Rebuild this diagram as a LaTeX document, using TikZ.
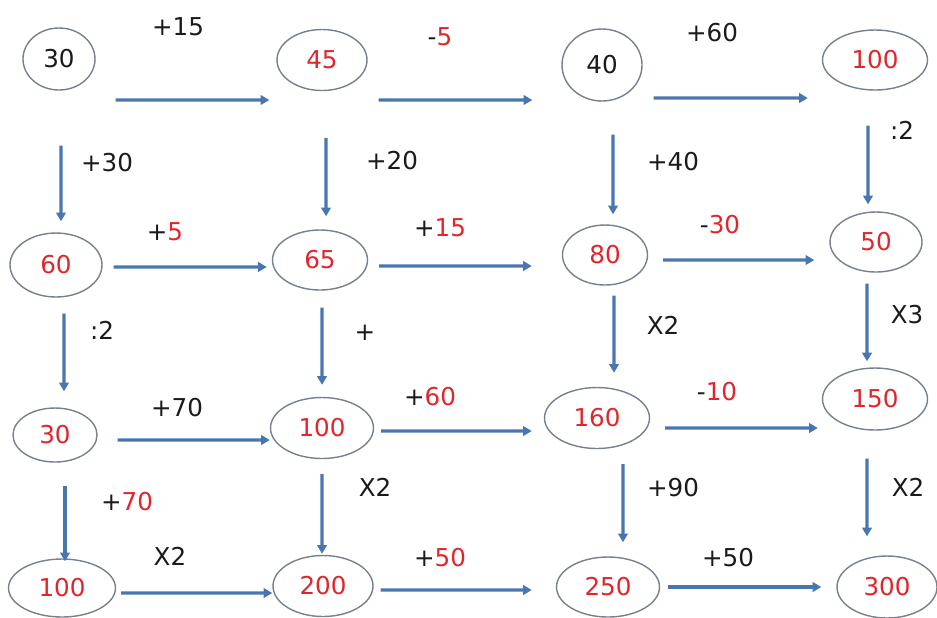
\documentclass[tikz,border=0pt]{standalone}
\usepackage{fontspec}
\setmainfont{DejaVu Sans}
\usepackage{xcolor}
\definecolor{cArrow}{HTML}{4A76B0}
\definecolor{cRim}{HTML}{77808E}
\definecolor{cRed}{HTML}{E0262B}
\definecolor{cInk}{HTML}{1A1A1A}
\usepackage{tikz}
\usetikzlibrary{arrows.meta,shapes.geometric}
\newcommand{\rd}[1]{\textcolor{cRed}{#1}}
\tikzset{
  node-val/.style={draw=cRim,line width=0.8pt,ellipse,inner sep=0pt,
    font=\fontsize{14}{16}\selectfont,text=cInk},
  node-red/.style={text=cRed},
  op-lbl/.style={inner sep=0pt,font=\fontsize{14}{16}\selectfont,text=cInk},
  % blue connectors that stop short of the ellipses
  arrow/.style={-{Triangle[length=5pt,width=5.5pt]},line width=1.8pt,draw=cArrow},
}

\begin{document}
\begin{tikzpicture}
  \useasboundingbox (0,0) rectangle (18.74,-12.34);
  % row 1
  \node[node-val,minimum width=14.4mm,minimum height=12.4mm]          (a1) at (1.18,-1.18)  {30};
  \node[node-val,node-red,minimum width=18mm,minimum height=12.2mm]   (a2) at (6.44,-1.20)  {45};
  \node[node-val,minimum width=16mm,minimum height=14.4mm]            (a3) at (12.04,-1.30) {40};
  \node[node-val,node-red,minimum width=21mm,minimum height=12mm]     (a4) at (17.50,-1.20) {100};
  % row 2
  \node[node-val,node-red,minimum width=18.4mm,minimum height=12.8mm] (b1) at (1.12,-5.30)  {60};
  \node[node-val,node-red,minimum width=19mm,minimum height=12mm]     (b2) at (6.40,-5.20)  {65};
  \node[node-val,node-red,minimum width=17mm,minimum height=12mm]     (b3) at (12.10,-5.10) {80};
  \node[node-val,node-red,minimum width=18.4mm,minimum height=12mm]   (b4) at (17.52,-4.84) {50};
  % row 3
  \node[node-val,node-red,minimum width=16.8mm,minimum height=10.8mm] (c1) at (1.10,-8.70)  {30};
  \node[node-val,node-red,minimum width=20.6mm,minimum height=12.2mm] (c2) at (6.44,-8.56)  {100};
  \node[node-val,node-red,minimum width=21mm,minimum height=12.2mm]   (c3) at (11.94,-8.36) {160};
  \node[node-val,node-red,minimum width=21mm,minimum height=12.4mm]   (c4) at (17.50,-7.98) {150};
  % row 4
  \node[node-val,node-red,minimum width=21.4mm,minimum height=11.6mm] (d1) at (1.24,-11.76) {100};
  \node[node-val,node-red,minimum width=20mm,minimum height=12.2mm]   (d2) at (6.46,-11.72) {200};
  \node[node-val,node-red,minimum width=20.6mm,minimum height=12mm]   (d3) at (12.16,-11.74) {250};
  \node[node-val,node-red,minimum width=20mm,minimum height=12.4mm]   (d4) at (17.74,-11.74) {300};

  \draw[arrow] ([xshift=4mm,yshift=-8.2mm]a1.east)   -- ([xshift=-1.4mm,yshift=-8mm]a2.west);
  \draw[arrow] ([xshift=2.2mm,yshift=-8mm]a2.east)   -- ([xshift=-5.8mm,yshift=-7mm]a3.west);
  \draw[arrow] ([xshift=2.2mm,yshift=-6.6mm]a3.east) -- ([xshift=-2.8mm,yshift=-7.6mm]a4.west);
  \draw[arrow] ([xshift=2.2mm,yshift=-0.4mm]b1.east) -- ([xshift=-1mm,yshift=-1.4mm]b2.west);
  \draw[arrow] ([xshift=2.2mm,yshift=-1.2mm]b2.east) -- ([xshift=-6mm,yshift=-2.2mm]b3.west);
  \draw[arrow] ([xshift=3mm,yshift=-1mm]b3.east)     -- ([xshift=-3mm,yshift=-3.6mm]b4.west);
  \draw[arrow] ([xshift=4mm,yshift=-1mm]c1.east)     -- ([yshift=-2.4mm]c2.west);
  \draw[arrow] ([xshift=1.4mm,yshift=-0.6mm]c2.east) -- ([xshift=-2.4mm,yshift=-2.6mm]c3.west);
  \draw[arrow] ([xshift=3mm,yshift=-2mm]c3.east)     -- ([xshift=-0.8mm,yshift=-5.8mm]c4.west);
  \draw[arrow] ([xshift=1mm,yshift=-1mm]d1.east)     -- ([yshift=-1.4mm]d2.west);
  \draw[arrow] ([xshift=1.4mm,yshift=-0.8mm]d2.east) -- ([xshift=-4.8mm,yshift=-0.6mm]d3.west);
  \draw[arrow] ([xshift=1.6mm]d3.east)               -- ([xshift=-3mm]d4.west);

  \draw[arrow] ([xshift=0.4mm,yshift=-11mm]a1.south)  -- ([xshift=1mm,yshift=2.2mm]b1.north);
  \draw[arrow] ([xshift=0.8mm,yshift=-9.4mm]a2.south) -- ([xshift=1.2mm,yshift=2.6mm]b2.north);
  \draw[arrow] ([xshift=2.2mm,yshift=-6.6mm]a3.south) -- ([xshift=1.6mm,yshift=2mm]b3.north);
  \draw[arrow] ([xshift=-1.4mm,yshift=-7mm]a4.south)  -- ([xshift=-1.6mm,yshift=1.4mm]b4.north);
  \draw[arrow] ([xshift=1.6mm,yshift=-3.2mm]b1.south) -- ([xshift=1.8mm,yshift=3.2mm]c1.north);
  \draw[arrow] ([xshift=0.4mm,yshift=-3.4mm]b2.south) -- ([yshift=2.4mm]c2.north);
  \draw[arrow] ([xshift=1.8mm,yshift=-2mm]b3.south)   -- ([xshift=3.4mm,yshift=2.8mm]c3.north);
  \draw[arrow] ([xshift=-1.8mm,yshift=-2.2mm]b4.south) -- ([xshift=-1.6mm,yshift=1.2mm]c4.north);
  \draw[arrow] ([xshift=2mm,yshift=-4.6mm]c1.south)   -- ([xshift=0.6mm,yshift=-0.6mm]d1.north);
  \draw[arrow] ([yshift=-3mm]c2.south)                -- ([xshift=-0.2mm,yshift=0.2mm]d2.north);
  \draw[arrow] ([xshift=5.2mm,yshift=-3mm]c3.south)   -- ([xshift=3mm,yshift=2.8mm]d3.north);
  \draw[arrow] ([xshift=-1.6mm,yshift=-5.6mm]c4.south) -- ([xshift=-4mm,yshift=3.8mm]d4.north);

  \node[op-lbl] (la12) at (3.56,-0.54)   {+15};
  \node[op-lbl] (la23) at (8.80,-0.74)   {-\rd{5}};
  \node[op-lbl] (la34) at (14.24,-0.66)  {+60};
  \node[op-lbl] (lab1) at (2.14,-3.26)   {+30};
  \node[op-lbl] (lab2) at (7.84,-3.22)   {+20};
  \node[op-lbl] (lab3) at (13.46,-3.24)  {+40};
  \node[op-lbl] (lab4) at (18.04,-2.60)  {:2};
  \node[op-lbl] (lb12) at (3.30,-4.64)   {+\rd{5}};
  \node[op-lbl] (lb23) at (8.80,-4.56)   {+\rd{15}};
  \node[op-lbl] (lb34) at (14.40,-4.50)  {-\rd{30}};
  \node[op-lbl] (lbc1) at (2.04,-6.60)   {:2};
  \node[op-lbl] (lbc2) at (7.30,-6.66)   {+};
  \node[op-lbl] (lbc3) at (13.26,-6.50)  {X2};
  \node[op-lbl] (lbc4) at (18.14,-6.30)  {X3};
  \node[op-lbl] (lc12) at (3.54,-8.16)   {+70};
  \node[op-lbl] (lc23) at (8.60,-7.94)   {+\rd{60}};
  \node[op-lbl] (lc34) at (14.34,-7.84)  {-\rd{10}};
  \node[op-lbl] (lcd1) at (2.54,-10.04)  {+\rd{70}};
  \node[op-lbl] (lcd2) at (7.50,-9.74)   {X2};
  \node[op-lbl] (lcd3) at (13.46,-9.76)  {+90};
  \node[op-lbl] (lcd4) at (18.16,-9.74)  {X2};
  \node[op-lbl] (ld12) at (3.40,-11.12)  {X2};
  \node[op-lbl] (ld23) at (8.80,-11.16)  {+\rd{50}};
  \node[op-lbl] (ld34) at (14.56,-11.16) {+50};
\end{tikzpicture}
\end{document}
